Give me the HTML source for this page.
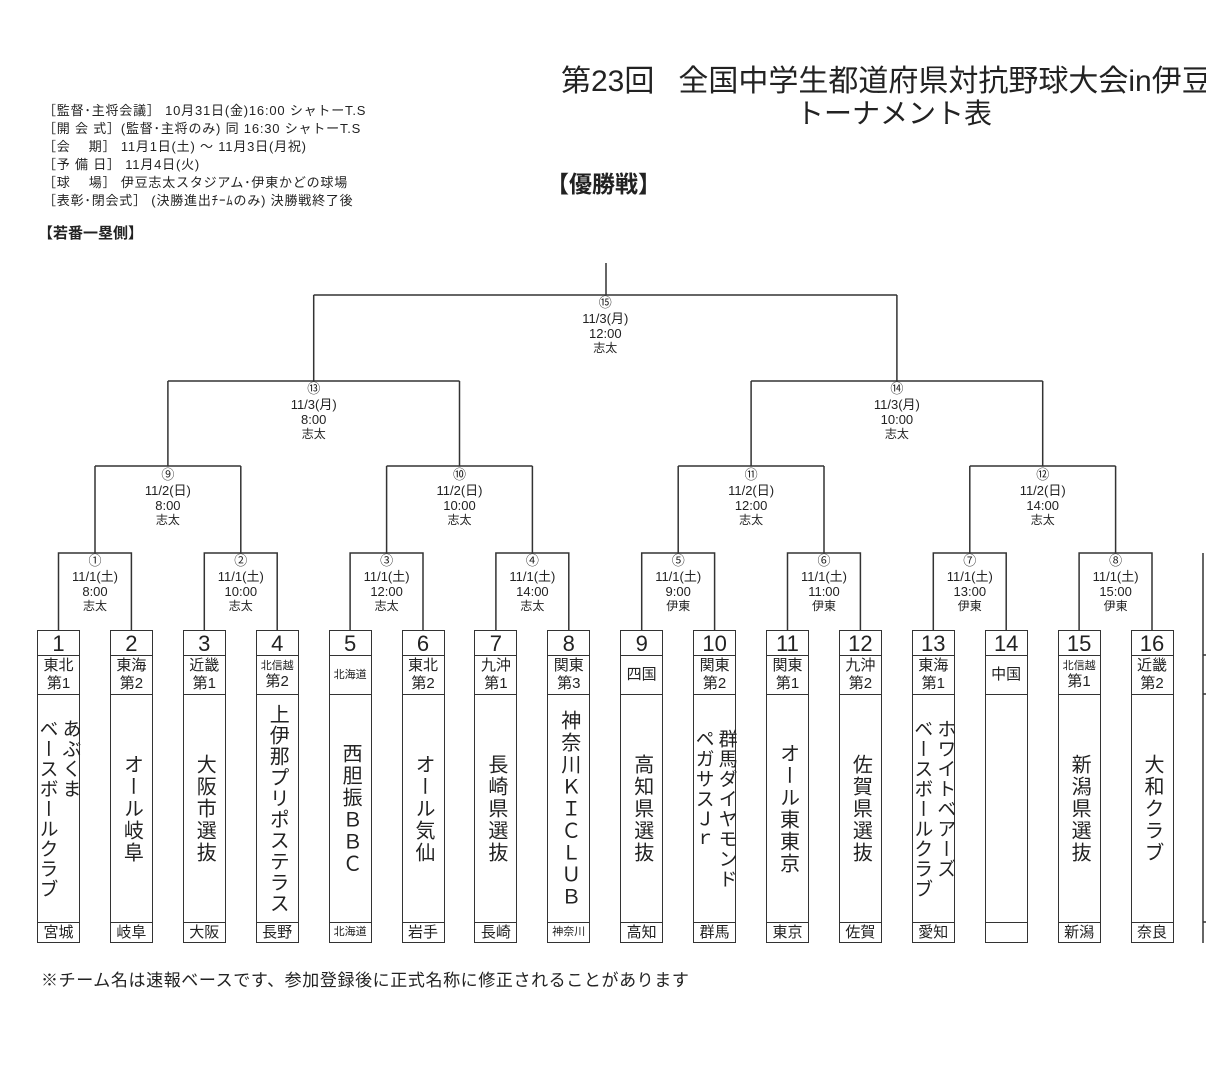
<!DOCTYPE html>
<html><head><meta charset="utf-8"><style>
html,body{margin:0;padding:0;background:#fff;}
body{width:1206px;height:1073px;position:relative;overflow:hidden;font-family:"Liberation Sans","Noto Sans CJK JP",sans-serif;color:#222;}
.a{position:absolute;white-space:nowrap;}
.box{position:absolute;top:630px;width:43px;height:313px;border:1.5px solid #333;box-sizing:border-box;background:#fff;}
.num{height:24px;border-bottom:1.5px solid #333;text-align:center;font-size:22px;line-height:25px;}
.reg{height:38px;border-bottom:1.5px solid #333;text-align:center;font-size:15px;line-height:18px;display:flex;flex-direction:column;justify-content:center;}
.reg .s{font-size:11px;line-height:14px;}
.nm{height:227px;border-bottom:1.5px solid #333;display:flex;justify-content:center;align-items:center;}
.nm span{writing-mode:vertical-rl;text-orientation:upright;font-size:20px;line-height:22px;letter-spacing:2px;}
.nm span.t{font-size:19px;line-height:23px;letter-spacing:1px;}
.pf{height:18px;text-align:center;font-size:15px;line-height:19px;}
.pf.s{font-size:11px;}
.info{font-size:13px;line-height:18px;letter-spacing:0.8px;}
</style></head><body>
<div class="a" style="left:561px;top:56px;font-size:30px;">第23回<span style="display:inline-block;width:24px"></span>全国中学生都道府県対抗野球大会in伊豆</div>
<div class="a" style="left:796px;top:92px;font-size:28px;">トーナメント表</div>
<div class="a" style="left:546px;top:165px;font-size:23px;font-weight:bold;">【優勝戦】</div>
<div class="a info" style="left:43px;top:102px;">［監督･主将会議］ 10月31日(金)16:00 シャトーT.S<br>［開 会 式］(監督･主将のみ) 同 16:30 シャトーT.S<br>［会　 期］ 11月1日(土) ～ 11月3日(月祝)<br>［予 備 日］ 11月4日(火)<br>［球　 場］ 伊豆志太スタジアム･伊東かどの球場<br>［表彰･閉会式］ (決勝進出ﾁｰﾑのみ) 決勝戦終了後</div>
<div class="a" style="left:38px;top:222px;font-size:15px;font-weight:bold;">【若番一塁側】</div>
<div class="a" style="left:41px;top:966px;font-size:17px;letter-spacing:0.6px;">※チーム名は速報ベースです、参加登録後に正式名称に修正されることがあります</div>

<svg class="a" style="left:0;top:0" width="1206" height="1073" fill="none" stroke="#333" stroke-width="1.5">
<path d="M606 263V295M313.7 295H896.9M313.7 295V381M896.9 295V381"/>
<path d="M167.9 381H459.5M167.9 381V466M459.5 381V466M751.1 381H1042.7M751.1 381V466M1042.7 381V466"/>
<path d="M95 466H240.8M95 466V553M240.8 466V553M386.6 466H532.4M386.6 466V553M532.4 466V553M678.2 466H824M678.2 466V553M824 466V553M969.8 466H1115.6M969.8 466V553M1115.6 466V553"/>
<path d="M58.5 630V553H131.4V630M204.3 630V553H277.2V630M350.1 630V553H423V630M495.9 630V553H568.8V630M641.7 630V553H714.6V630M787.5 630V553H860.4V630M933.3 630V553H1006.2V630M1079.1 630V553H1152V630"/>
<path d="M1203 553V943M1203 655H1206M1203 694H1206M1203 922H1206"/>
<g stroke="none" fill="#222" font-size="13" text-anchor="middle">
<text x="605.3" y="307">⑮</text><text x="605.3" y="323">11/3(月)</text><text x="605.3" y="338">12:00</text><text x="605.3" y="352" font-size="12">志太</text>
<text x="313.7" y="393">⑬</text><text x="313.7" y="409">11/3(月)</text><text x="313.7" y="424">8:00</text><text x="313.7" y="438" font-size="12">志太</text>
<text x="896.9" y="393">⑭</text><text x="896.9" y="409">11/3(月)</text><text x="896.9" y="424">10:00</text><text x="896.9" y="438" font-size="12">志太</text>
<text x="167.9" y="479">⑨</text><text x="167.9" y="495">11/2(日)</text><text x="167.9" y="510">8:00</text><text x="167.9" y="524" font-size="12">志太</text>
<text x="459.5" y="479">⑩</text><text x="459.5" y="495">11/2(日)</text><text x="459.5" y="510">10:00</text><text x="459.5" y="524" font-size="12">志太</text>
<text x="751.1" y="479">⑪</text><text x="751.1" y="495">11/2(日)</text><text x="751.1" y="510">12:00</text><text x="751.1" y="524" font-size="12">志太</text>
<text x="1042.7" y="479">⑫</text><text x="1042.7" y="495">11/2(日)</text><text x="1042.7" y="510">14:00</text><text x="1042.7" y="524" font-size="12">志太</text>
<text x="95" y="565">①</text><text x="95" y="581">11/1(土)</text><text x="95" y="596">8:00</text><text x="95" y="610" font-size="12">志太</text>
<text x="240.8" y="565">②</text><text x="240.8" y="581">11/1(土)</text><text x="240.8" y="596">10:00</text><text x="240.8" y="610" font-size="12">志太</text>
<text x="386.6" y="565">③</text><text x="386.6" y="581">11/1(土)</text><text x="386.6" y="596">12:00</text><text x="386.6" y="610" font-size="12">志太</text>
<text x="532.4" y="565">④</text><text x="532.4" y="581">11/1(土)</text><text x="532.4" y="596">14:00</text><text x="532.4" y="610" font-size="12">志太</text>
<text x="678.2" y="565">⑤</text><text x="678.2" y="581">11/1(土)</text><text x="678.2" y="596">9:00</text><text x="678.2" y="610" font-size="12">伊東</text>
<text x="824" y="565">⑥</text><text x="824" y="581">11/1(土)</text><text x="824" y="596">11:00</text><text x="824" y="610" font-size="12">伊東</text>
<text x="969.8" y="565">⑦</text><text x="969.8" y="581">11/1(土)</text><text x="969.8" y="596">13:00</text><text x="969.8" y="610" font-size="12">伊東</text>
<text x="1115.6" y="565">⑧</text><text x="1115.6" y="581">11/1(土)</text><text x="1115.6" y="596">15:00</text><text x="1115.6" y="610" font-size="12">伊東</text>
</g>
</svg>

<div class="box" style="left:37px"><div class="num">1</div><div class="reg"><div>東北</div><div>第1</div></div><div class="nm"><span class="t">あぶくま<br>ベースボールクラブ</span></div><div class="pf">宮城</div></div>
<div class="box" style="left:109.9px"><div class="num">2</div><div class="reg"><div>東海</div><div>第2</div></div><div class="nm"><span>オール岐阜</span></div><div class="pf">岐阜</div></div>
<div class="box" style="left:182.8px"><div class="num">3</div><div class="reg"><div>近畿</div><div>第1</div></div><div class="nm"><span>大阪市選抜</span></div><div class="pf">大阪</div></div>
<div class="box" style="left:255.7px"><div class="num">4</div><div class="reg"><div class="s">北信越</div><div>第2</div></div><div class="nm"><span style="letter-spacing:1px">上伊那プリポステラス</span></div><div class="pf">長野</div></div>
<div class="box" style="left:328.6px"><div class="num">5</div><div class="reg"><div class="s">北海道</div></div><div class="nm"><span>西胆振ＢＢＣ</span></div><div class="pf s">北海道</div></div>
<div class="box" style="left:401.5px"><div class="num">6</div><div class="reg"><div>東北</div><div>第2</div></div><div class="nm"><span>オール気仙</span></div><div class="pf">岩手</div></div>
<div class="box" style="left:474.4px"><div class="num">7</div><div class="reg"><div>九沖</div><div>第1</div></div><div class="nm"><span>長崎県選抜</span></div><div class="pf">長崎</div></div>
<div class="box" style="left:547.3px"><div class="num">8</div><div class="reg"><div>関東</div><div>第3</div></div><div class="nm"><span>神奈川ＫＩＣＬＵＢ</span></div><div class="pf s">神奈川</div></div>
<div class="box" style="left:620.2px"><div class="num">9</div><div class="reg"><div>四国</div></div><div class="nm"><span>高知県選抜</span></div><div class="pf">高知</div></div>
<div class="box" style="left:693.1px"><div class="num">10</div><div class="reg"><div>関東</div><div>第2</div></div><div class="nm"><span class="t">群馬ダイヤモンド<br>ペガサスＪｒ</span></div><div class="pf">群馬</div></div>
<div class="box" style="left:766px"><div class="num">11</div><div class="reg"><div>関東</div><div>第1</div></div><div class="nm"><span>オール東東京</span></div><div class="pf">東京</div></div>
<div class="box" style="left:838.9px"><div class="num">12</div><div class="reg"><div>九沖</div><div>第2</div></div><div class="nm"><span>佐賀県選抜</span></div><div class="pf">佐賀</div></div>
<div class="box" style="left:911.8px"><div class="num">13</div><div class="reg"><div>東海</div><div>第1</div></div><div class="nm"><span class="t">ホワイトベアーズ<br>ベースボールクラブ</span></div><div class="pf">愛知</div></div>
<div class="box" style="left:984.7px"><div class="num">14</div><div class="reg"><div>中国</div></div><div class="nm"><span></span></div><div class="pf"></div></div>
<div class="box" style="left:1057.6px"><div class="num">15</div><div class="reg"><div class="s">北信越</div><div>第1</div></div><div class="nm"><span>新潟県選抜</span></div><div class="pf">新潟</div></div>
<div class="box" style="left:1130.5px"><div class="num">16</div><div class="reg"><div>近畿</div><div>第2</div></div><div class="nm"><span>大和クラブ</span></div><div class="pf">奈良</div></div>
</body></html>
